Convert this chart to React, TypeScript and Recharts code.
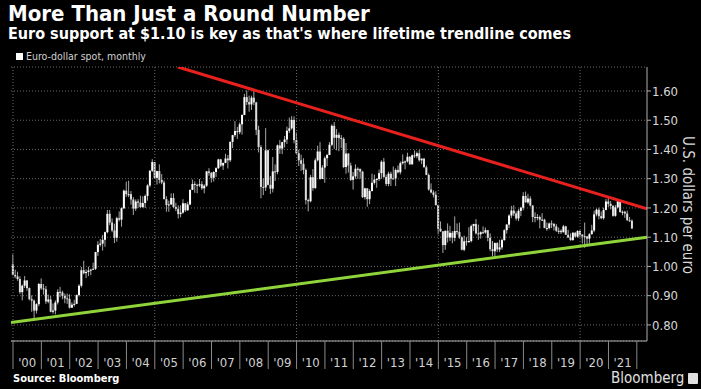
import React from 'react';
import {
  Bar,
  CartesianGrid,
  ComposedChart,
  ReferenceLine,
  XAxis,
  YAxis,
} from 'recharts';

// monthly EUR/USD candles, [open, high, low, close]
const y2000 = [[1.007, 1.041, 0.969, 0.971], [0.971, 0.989, 0.96, 0.966], [0.966, 0.982, 0.951, 0.957], [0.957, 0.966, 0.906, 0.912], [0.912, 0.938, 0.884, 0.934], [0.934, 0.967, 0.926, 0.952], [0.952, 0.953, 0.917, 0.926], [0.926, 0.928, 0.884, 0.888], [0.888, 0.901, 0.845, 0.883], [0.883, 0.887, 0.823, 0.849], [0.849, 0.874, 0.839, 0.871], [0.871, 0.943, 0.864, 0.94]];
const y2001 = [[0.94, 0.959, 0.92, 0.925], [0.925, 0.94, 0.904, 0.922], [0.922, 0.933, 0.872, 0.88], [0.88, 0.904, 0.874, 0.887], [0.887, 0.899, 0.843, 0.845], [0.845, 0.873, 0.838, 0.849], [0.849, 0.884, 0.836, 0.877], [0.877, 0.922, 0.87, 0.913], [0.913, 0.93, 0.895, 0.911], [0.911, 0.917, 0.888, 0.899], [0.899, 0.907, 0.874, 0.891], [0.891, 0.907, 0.872, 0.889]];
const y2002 = [[0.889, 0.905, 0.856, 0.859], [0.859, 0.877, 0.858, 0.869], [0.869, 0.886, 0.863, 0.872], [0.872, 0.904, 0.871, 0.902], [0.902, 0.939, 0.897, 0.934], [0.934, 0.998, 0.928, 0.987], [0.987, 1.019, 0.973, 0.977], [0.977, 0.99, 0.96, 0.981], [0.981, 0.999, 0.967, 0.986], [0.986, 0.992, 0.97, 0.989], [0.989, 1.013, 0.988, 0.992], [0.992, 1.05, 0.988, 1.049]];
const y2003 = [[1.049, 1.086, 1.036, 1.074], [1.074, 1.094, 1.068, 1.078], [1.078, 1.108, 1.054, 1.091], [1.091, 1.119, 1.067, 1.117], [1.117, 1.193, 1.113, 1.18], [1.18, 1.193, 1.141, 1.15], [1.15, 1.164, 1.117, 1.123], [1.123, 1.146, 1.08, 1.098], [1.098, 1.17, 1.085, 1.165], [1.165, 1.188, 1.154, 1.16], [1.16, 1.202, 1.136, 1.199], [1.199, 1.263, 1.196, 1.259]];
const y2004 = [[1.259, 1.29, 1.238, 1.247], [1.247, 1.293, 1.237, 1.247], [1.247, 1.258, 1.211, 1.229], [1.229, 1.237, 1.176, 1.198], [1.198, 1.229, 1.19, 1.222], [1.222, 1.23, 1.2, 1.218], [1.218, 1.242, 1.2, 1.203], [1.203, 1.24, 1.2, 1.217], [1.217, 1.246, 1.2, 1.241], [1.241, 1.281, 1.225, 1.277], [1.277, 1.33, 1.271, 1.327], [1.327, 1.367, 1.323, 1.357]];
const y2005 = [[1.357, 1.357, 1.299, 1.303], [1.303, 1.327, 1.28, 1.326], [1.326, 1.349, 1.284, 1.296], [1.296, 1.316, 1.281, 1.287], [1.287, 1.294, 1.23, 1.23], [1.23, 1.24, 1.187, 1.21], [1.21, 1.225, 1.187, 1.212], [1.212, 1.25, 1.21, 1.234], [1.234, 1.25, 1.2, 1.203], [1.203, 1.218, 1.189, 1.197], [1.197, 1.209, 1.164, 1.179], [1.179, 1.209, 1.168, 1.184]];
const y2006 = [[1.184, 1.23, 1.18, 1.216], [1.216, 1.216, 1.186, 1.192], [1.192, 1.221, 1.19, 1.212], [1.212, 1.262, 1.209, 1.262], [1.262, 1.297, 1.261, 1.282], [1.282, 1.291, 1.252, 1.279], [1.279, 1.283, 1.25, 1.277], [1.277, 1.299, 1.272, 1.281], [1.281, 1.291, 1.262, 1.267], [1.267, 1.281, 1.25, 1.276], [1.276, 1.326, 1.272, 1.325], [1.325, 1.336, 1.31, 1.32]];
const y2007 = [[1.32, 1.323, 1.287, 1.303], [1.303, 1.325, 1.29, 1.323], [1.323, 1.339, 1.306, 1.336], [1.336, 1.368, 1.333, 1.366], [1.366, 1.368, 1.34, 1.345], [1.345, 1.355, 1.33, 1.354], [1.354, 1.385, 1.353, 1.369], [1.369, 1.381, 1.335, 1.363], [1.363, 1.427, 1.357, 1.426], [1.426, 1.45, 1.405, 1.449], [1.449, 1.497, 1.443, 1.463], [1.463, 1.477, 1.436, 1.459]];
const y2008 = [[1.459, 1.492, 1.452, 1.486], [1.486, 1.52, 1.451, 1.518], [1.518, 1.59, 1.517, 1.579], [1.579, 1.602, 1.552, 1.562], [1.562, 1.584, 1.529, 1.554], [1.554, 1.584, 1.535, 1.577], [1.577, 1.604, 1.551, 1.561], [1.561, 1.563, 1.449, 1.467], [1.467, 1.481, 1.39, 1.408], [1.408, 1.415, 1.233, 1.272], [1.272, 1.301, 1.244, 1.27], [1.27, 1.473, 1.258, 1.397]];
const y2009 = [[1.397, 1.4, 1.277, 1.279], [1.279, 1.309, 1.248, 1.266], [1.266, 1.374, 1.253, 1.325], [1.325, 1.349, 1.292, 1.323], [1.323, 1.417, 1.315, 1.414], [1.414, 1.432, 1.385, 1.403], [1.403, 1.426, 1.384, 1.425], [1.425, 1.446, 1.407, 1.434], [1.434, 1.478, 1.419, 1.464], [1.464, 1.509, 1.456, 1.472], [1.472, 1.514, 1.468, 1.501], [1.501, 1.513, 1.421, 1.432]];
const y2010 = [[1.432, 1.458, 1.386, 1.387], [1.387, 1.399, 1.343, 1.363], [1.363, 1.382, 1.327, 1.351], [1.351, 1.37, 1.315, 1.33], [1.33, 1.335, 1.212, 1.227], [1.227, 1.232, 1.188, 1.223], [1.223, 1.313, 1.219, 1.305], [1.305, 1.333, 1.259, 1.268], [1.268, 1.37, 1.265, 1.363], [1.363, 1.413, 1.359, 1.393], [1.393, 1.425, 1.297, 1.299], [1.299, 1.346, 1.302, 1.338]];
const y2011 = [[1.338, 1.376, 1.286, 1.37], [1.37, 1.385, 1.343, 1.381], [1.381, 1.425, 1.381, 1.416], [1.416, 1.486, 1.411, 1.481], [1.481, 1.494, 1.402, 1.44], [1.44, 1.47, 1.397, 1.45], [1.45, 1.458, 1.394, 1.439], [1.439, 1.449, 1.405, 1.436], [1.436, 1.442, 1.336, 1.34], [1.34, 1.422, 1.317, 1.386], [1.386, 1.387, 1.321, 1.345], [1.345, 1.355, 1.292, 1.296]];
const y2012 = [[1.296, 1.323, 1.263, 1.308], [1.308, 1.349, 1.3, 1.334], [1.334, 1.339, 1.3, 1.334], [1.334, 1.333, 1.3, 1.324], [1.324, 1.327, 1.234, 1.237], [1.237, 1.269, 1.229, 1.267], [1.267, 1.268, 1.204, 1.23], [1.23, 1.264, 1.213, 1.258], [1.258, 1.317, 1.256, 1.286], [1.286, 1.314, 1.28, 1.297], [1.297, 1.302, 1.269, 1.299], [1.299, 1.331, 1.292, 1.319]];
const y2013 = [[1.319, 1.363, 1.3, 1.358], [1.358, 1.371, 1.303, 1.306], [1.306, 1.314, 1.275, 1.282], [1.282, 1.324, 1.274, 1.317], [1.317, 1.324, 1.275, 1.3], [1.3, 1.342, 1.301, 1.301], [1.301, 1.335, 1.275, 1.33], [1.33, 1.345, 1.318, 1.322], [1.322, 1.359, 1.315, 1.353], [1.353, 1.383, 1.348, 1.358], [1.358, 1.362, 1.332, 1.359], [1.359, 1.389, 1.355, 1.375]];
const y2014 = [[1.375, 1.377, 1.348, 1.349], [1.349, 1.383, 1.349, 1.38], [1.38, 1.397, 1.371, 1.377], [1.377, 1.393, 1.37, 1.387], [1.387, 1.399, 1.358, 1.363], [1.363, 1.368, 1.35, 1.369], [1.369, 1.37, 1.339, 1.339], [1.339, 1.345, 1.312, 1.313], [1.313, 1.318, 1.259, 1.263], [1.263, 1.284, 1.25, 1.253], [1.253, 1.26, 1.236, 1.245], [1.245, 1.257, 1.208, 1.21]];
const y2015 = [[1.21, 1.212, 1.11, 1.129], [1.129, 1.154, 1.118, 1.12], [1.12, 1.12, 1.046, 1.073], [1.073, 1.122, 1.057, 1.122], [1.122, 1.147, 1.082, 1.099], [1.099, 1.139, 1.087, 1.115], [1.115, 1.121, 1.079, 1.098], [1.098, 1.171, 1.086, 1.121], [1.121, 1.147, 1.109, 1.118], [1.118, 1.15, 1.094, 1.1], [1.1, 1.103, 1.055, 1.057], [1.057, 1.105, 1.052, 1.086]];
const y2016 = [[1.086, 1.1, 1.071, 1.083], [1.083, 1.134, 1.081, 1.087], [1.087, 1.143, 1.082, 1.138], [1.138, 1.146, 1.121, 1.145], [1.145, 1.162, 1.109, 1.113], [1.113, 1.143, 1.091, 1.11], [1.11, 1.12, 1.095, 1.117], [1.117, 1.137, 1.111, 1.116], [1.116, 1.133, 1.112, 1.124], [1.124, 1.124, 1.086, 1.098], [1.098, 1.113, 1.052, 1.059], [1.059, 1.087, 1.035, 1.052]];
const y2017 = [[1.052, 1.082, 1.034, 1.08], [1.08, 1.083, 1.049, 1.058], [1.058, 1.091, 1.049, 1.065], [1.065, 1.095, 1.057, 1.09], [1.09, 1.127, 1.088, 1.124], [1.124, 1.145, 1.112, 1.143], [1.143, 1.178, 1.131, 1.174], [1.174, 1.207, 1.165, 1.191], [1.191, 1.209, 1.172, 1.181], [1.181, 1.188, 1.157, 1.164], [1.164, 1.196, 1.155, 1.19], [1.19, 1.204, 1.172, 1.201]];
const y2018 = [[1.201, 1.254, 1.192, 1.241], [1.241, 1.256, 1.219, 1.219], [1.219, 1.248, 1.214, 1.232], [1.232, 1.24, 1.205, 1.208], [1.208, 1.21, 1.151, 1.169], [1.169, 1.185, 1.151, 1.168], [1.168, 1.179, 1.158, 1.169], [1.169, 1.174, 1.13, 1.16], [1.16, 1.182, 1.156, 1.16], [1.16, 1.163, 1.132, 1.131], [1.131, 1.15, 1.122, 1.131], [1.131, 1.15, 1.127, 1.147]];
const y2019 = [[1.147, 1.157, 1.131, 1.145], [1.145, 1.149, 1.123, 1.137], [1.137, 1.145, 1.118, 1.122], [1.122, 1.133, 1.111, 1.122], [1.122, 1.127, 1.111, 1.117], [1.117, 1.142, 1.116, 1.137], [1.137, 1.139, 1.11, 1.108], [1.108, 1.125, 1.097, 1.099], [1.099, 1.113, 1.088, 1.09], [1.09, 1.118, 1.088, 1.115], [1.115, 1.118, 1.099, 1.102], [1.102, 1.124, 1.098, 1.121]];
const y2020 = [[1.121, 1.124, 1.099, 1.109], [1.109, 1.11, 1.078, 1.103], [1.103, 1.15, 1.064, 1.103], [1.103, 1.102, 1.073, 1.095], [1.095, 1.114, 1.077, 1.11], [1.11, 1.142, 1.11, 1.123], [1.123, 1.191, 1.117, 1.178], [1.178, 1.198, 1.171, 1.194], [1.194, 1.201, 1.161, 1.172], [1.172, 1.188, 1.162, 1.165], [1.165, 1.201, 1.16, 1.193], [1.193, 1.231, 1.192, 1.222]];
const y2021 = [[1.222, 1.235, 1.203, 1.214], [1.214, 1.224, 1.195, 1.207], [1.207, 1.21, 1.17, 1.173], [1.173, 1.21, 1.17, 1.202], [1.202, 1.227, 1.199, 1.223], [1.223, 1.227, 1.184, 1.186], [1.186, 1.191, 1.175, 1.187], [1.187, 1.19, 1.166, 1.181], [1.181, 1.191, 1.156, 1.158], [1.158, 1.169, 1.152, 1.156], [1.156, 1.161, 1.128, 1.13]];

const years = [y2000, y2001, y2002, y2003, y2004, y2005, y2006, y2007, y2008, y2009, y2010, y2011, y2012, y2013, y2014, y2015, y2016, y2017, y2018, y2019, y2020, y2021];
const yearLabels = ["'00", "'01", "'02", "'03", "'04", "'05", "'06", "'07", "'08", "'09", "'10", "'11", "'12", "'13", "'14", "'15", "'16", "'17", "'18", "'19", "'20", "'21"];

// trendlines, x = months since Jan 2000
const redTrend = [{ month: 69.8, value: 1.682 }, { month: 268.3, value: 1.197 }];
const greenTrend = [{ month: -0.85, value: 0.808 }, { month: 268.3, value: 1.1 }];

const yTicks = [0.8, 0.9, 1.0, 1.1, 1.2, 1.3, 1.4, 1.5, 1.6];
const gridMonths = [0, 60, 120, 180, 240];

const rows = years.flatMap((yr, yi) =>
  yr.map((t, mi) => ({ month: yi * 12 + mi, o: t[0], h: t[1], l: t[2], c: t[3] }))
);

const xTicks: number[] = [];
for (let i = 0; i <= years.length; i++) {
  xTicks.push(i * 12);
  if (i < years.length) xTicks.push(i * 12 + 6);
}

const axisFont = '"DejaVu Sans Condensed", "DejaVu Sans", sans-serif';

const Candle = (props: any) => {
  const { x, y, width, height, payload } = props;
  if (!payload || height == null) return null;
  const { o, h, l, c } = payload;
  const cx = x + width / 2;
  const py = (v: number) => y + ((h - v) / (h - l)) * height;
  const top = py(Math.max(o, c));
  const bot = py(Math.min(o, c));
  return (
    <g>
      <line x1={cx} x2={cx} y1={y} y2={y + height} stroke="#a8a8a8" strokeWidth={1} />
      <rect x={cx - 1} y={top} width={2} height={Math.max(1, bot - top)} fill={c >= o ? '#ffffff' : '#dcdcdc'} />
    </g>
  );
};

const YearTick = (props: any) => {
  const { x, y, payload } = props;
  const v = payload.value;
  if (v % 12 === 0) {
    return <line x1={x} x2={x} y1={y} y2={y + 28} stroke="#8a8a8a" strokeWidth={1} />;
  }
  return (
    <text x={x} y={y + 26} textAnchor="middle" fill="#d0d0d0" fontSize={13} fontFamily={axisFont}>
      {yearLabels[Math.floor(v / 12)]}
    </text>
  );
};

export default function App() {
  return (
    <div style={{ position: 'fixed', left: 0, top: 0, width: 701, height: 389, background: '#000', overflow: 'hidden' }}>
      <div style={{ position: 'absolute', left: 8, top: 1, color: '#fff', fontFamily: axisFont, fontWeight: 'bold', fontSize: 22, whiteSpace: 'nowrap' }}>
        More Than Just a Round Number
      </div>
      <div style={{ position: 'absolute', left: 8, top: 24, color: '#fff', fontFamily: axisFont, fontWeight: 'bold', fontSize: 16, whiteSpace: 'nowrap' }}>
        Euro support at $1.10 is key as that's where lifetime trendline comes
      </div>
      <div style={{ position: 'absolute', left: 16, top: 50, display: 'flex', alignItems: 'center', color: '#d0d0d0', fontFamily: axisFont, fontSize: 10.5, whiteSpace: 'nowrap' }}>
        <span style={{ display: 'inline-block', width: 7, height: 7, background: '#fff', marginRight: 3 }} />
        Euro-dollar spot, monthly
      </div>

      <ComposedChart
        width={701}
        height={389}
        data={rows}
        margin={{ top: 67, right: 0, bottom: 0, left: 11 }}
        style={{ position: 'absolute', left: 0, top: 0 }}
      >
        <CartesianGrid vertical={false} stroke="#6a6a6a" strokeDasharray="1 2" />
        {gridMonths.map((m) => (
          <ReferenceLine key={m} x={m} stroke="#6a6a6a" strokeDasharray="1 2" />
        ))}
        <XAxis
          type="number"
          dataKey="month"
          domain={[-0.85, 268.3]}
          allowDataOverflow
          ticks={xTicks}
          interval={0}
          tick={<YearTick />}
          tickLine={false}
          tickSize={0}
          tickMargin={0}
          axisLine={{ stroke: '#b0b0b0' }}
          height={48}
        />
        <YAxis
          orientation="right"
          domain={[0.745, 1.682]}
          allowDataOverflow
          ticks={yTicks}
          interval={0}
          tickFormatter={(v: number) => v.toFixed(2)}
          tick={{ fill: '#d8d8d8', fontSize: 13, fontFamily: axisFont }}
          tickLine={{ stroke: '#b0b0b0' }}
          tickSize={4}
          tickMargin={1}
          axisLine={{ stroke: '#b0b0b0' }}
          width={54}
        />
        <Bar
          dataKey={(d: any) => [d.l, d.h]}
          barSize={2}
          shape={(p: any) => <Candle {...p} />}
          isAnimationActive={false}
        />
        <ReferenceLine
          segment={[{ x: redTrend[0].month, y: redTrend[0].value }, { x: redTrend[1].month, y: redTrend[1].value }]}
          stroke="#e8201e"
          strokeWidth={3}
          ifOverflow="hidden"
        />
        <ReferenceLine
          segment={[{ x: greenTrend[0].month, y: greenTrend[0].value }, { x: greenTrend[1].month, y: greenTrend[1].value }]}
          stroke="#8fd43a"
          strokeWidth={3}
          ifOverflow="hidden"
        />
      </ComposedChart>

      <div style={{ position: 'absolute', left: 688, top: 205, transform: 'translate(-50%, -50%) rotate(90deg)', color: '#d8d8d8', fontFamily: axisFont, fontSize: 15, whiteSpace: 'nowrap' }}>
        U.S. dollars per euro
      </div>
      <div style={{ position: 'absolute', left: 13, top: 372, color: '#fff', fontFamily: axisFont, fontWeight: 'bold', fontSize: 11, whiteSpace: 'nowrap' }}>
        Source: Bloomberg
      </div>
      <div style={{ position: 'absolute', left: 611, top: 369, display: 'flex', alignItems: 'center', color: '#e0e0e0', fontFamily: axisFont, fontSize: 15, whiteSpace: 'nowrap' }}>
        Bloomberg
        <span style={{ display: 'inline-block', width: 10, height: 11, background: '#e0e0e0', marginLeft: 4, borderRadius: 1 }} />
      </div>
    </div>
  );
}
